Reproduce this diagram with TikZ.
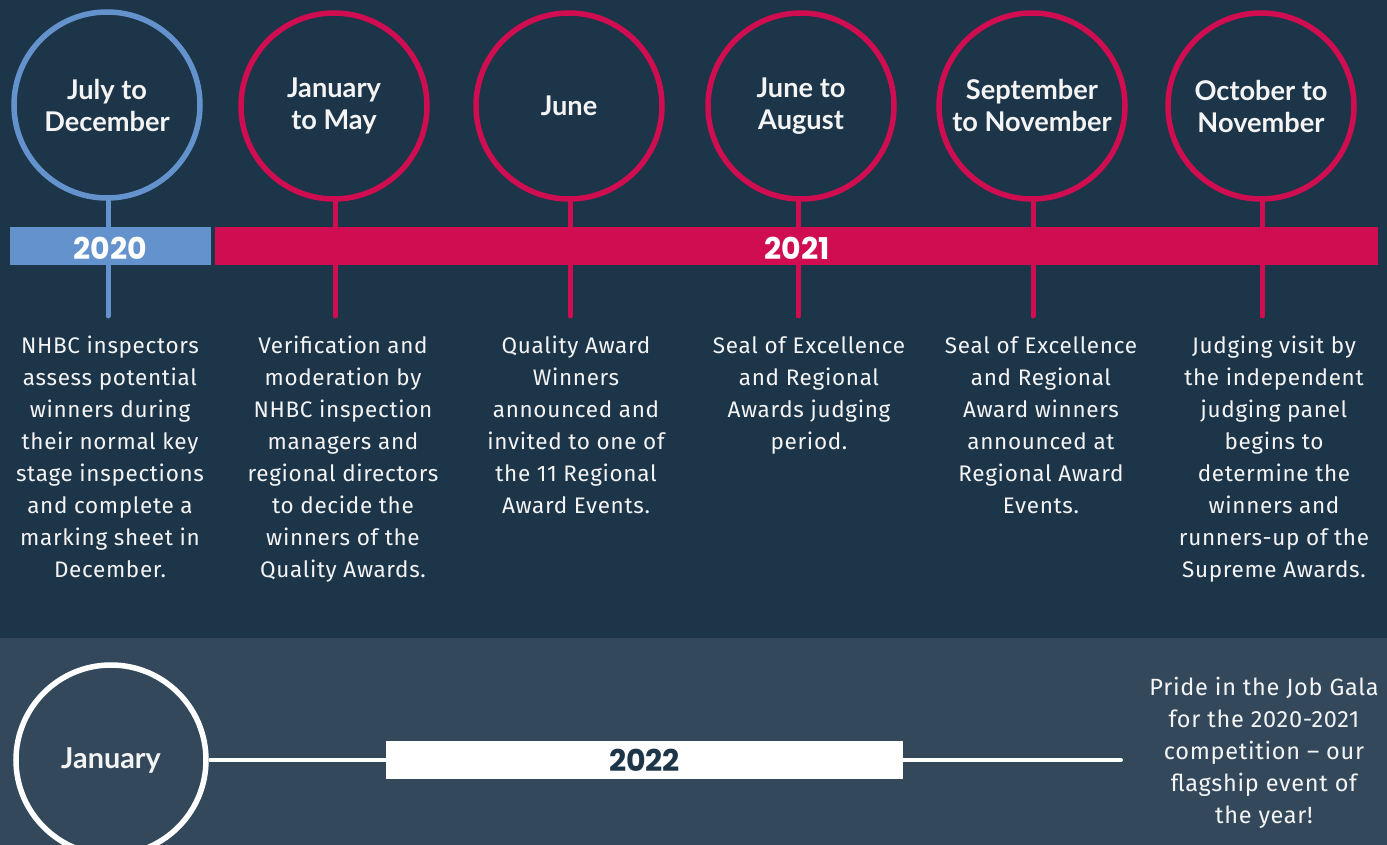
\documentclass[tikz,border=0pt]{standalone}
\usepackage{fontspec}
\setmainfont{Fira Sans}[LetterSpace=3]
\newfontfamily\headfont{Lato}
\newfontfamily\yearfont{Poppins}
\definecolor{navy}{HTML}{1D3549}
\definecolor{slate}{HTML}{33495B}
\definecolor{crimson}{HTML}{D00D50}
\definecolor{skyblue}{HTML}{6492CC}
\definecolor{paper}{HTML}{F4F4F4}
\begin{document}
\begin{tikzpicture}[x=0.5pt,y=-0.5pt,
  ring/.style={circle,draw=#1,line width=2.75pt,minimum size=93pt,inner sep=0pt,
    text=paper,align=center,font=\headfont\bfseries\fontsize{13.6}{16}\selectfont},
  stem/.style={draw=#1,line width=2.5pt,line cap=round},
  yearbar/.style={fill=#1,draw=none},
  yeartext/.style={inner sep=0pt,font=\yearfont\bfseries\fontsize{15}{16}\selectfont},
  desc/.style={anchor=north,inner sep=0pt,align=center,text=paper,
    font=\fontsize{11.25}{16}\selectfont}]
\useasboundingbox (0,0) rectangle (1387,845);
% backgrounds
\fill[navy] (0,0) rectangle (1387,638);
\fill[slate] (0,638) rectangle (1387,845);

% milestone rings
\node[ring=skyblue] (c1) at (107,105) {July to\\December};
\node[ring=crimson] (c2) at (334,106) {January\\to May};
\node[ring=crimson] (c3) at (569,106) {June};
\node[ring=crimson] (c4) at (801,106) {June to\\August};
\node[ring=crimson] (c5) at (1032,106) {September\\to November};
\node[ring=crimson] (c6) at (1261,106) {October to\\November};

% stems below each ring
\coordinate (e1) at (108,316);
\coordinate (e2) at (335,316);
\coordinate (e3) at (570,316);
\coordinate (e4) at (798,316);
\coordinate (e5) at (1033,316);
\coordinate (e6) at (1262,316);
\draw[stem=skyblue] (c1.south -| e1) -- (e1);
\draw[stem=crimson] (c2.south -| e2) -- (e2);
\draw[stem=crimson] (c3.south -| e3) -- (e3);
\draw[stem=crimson] (c4.south -| e4) -- (e4);
\draw[stem=crimson] (c5.south -| e5) -- (e5);
\draw[stem=crimson] (c6.south -| e6) -- (e6);

% year bars
\fill[yearbar=skyblue] (10,227) rectangle (211,265);
\fill[yearbar=crimson] (215,227) rectangle (1378,265);
\node[yeartext,text=white] (y20) at (110,248) {2020};
\node[yeartext,text=white] (y21) at (797,248) {2021};

% descriptions
\node[desc] (d1) at (110,336) {NHBC inspectors\\assess potential\\winners during\\their normal key\\stage inspections\\and complete a\\marking sheet in\\December.};
\node[desc] (d2) at (343,336) {Verification and\\moderation by\\NHBC inspection\\managers and\\regional directors\\to decide the\\winners of the\\Quality Awards.};
\node[desc] (d3) at (576,336) {Quality Award\\Winners\\announced and\\invited to one of\\the 11 Regional\\Award Events.};
\node[desc] (d4) at (809,336) {Seal of Excellence\\and Regional\\Awards judging\\period.};
\node[desc] (d5) at (1041,336) {Seal of Excellence\\and Regional\\Award winners\\announced at\\Regional Award\\Events.};
\node[desc] (d6) at (1274,336) {Judging visit by\\the independent\\judging panel\\begins to\\determine the\\winners and\\runners-up of the\\Supreme Awards.};

% 2022 row
\node[ring=white,minimum size=95pt,font=\headfont\bfseries\fontsize{14.4}{16}\selectfont] (c7) at (111,760) {January};
\node[fill=white,minimum width=258.5pt,minimum height=19pt,inner sep=0pt,
  yeartext,text=navy] (y22) at (644.5,760) {2022};
\coordinate (tail) at (1121,760);
\draw[white,line width=2pt] (c7.east) -- (c7.east -| y22.west);
\draw[white,line width=2pt,line cap=round] (y22.east |- tail) -- (tail);
\node[desc,font=\fontsize{11.75}{16}\selectfont] (d7) at (1264,677) {Pride in the Job Gala\\for the 2020-2021\\competition – our\\flagship event of\\the year!};
\end{tikzpicture}
\end{document}
